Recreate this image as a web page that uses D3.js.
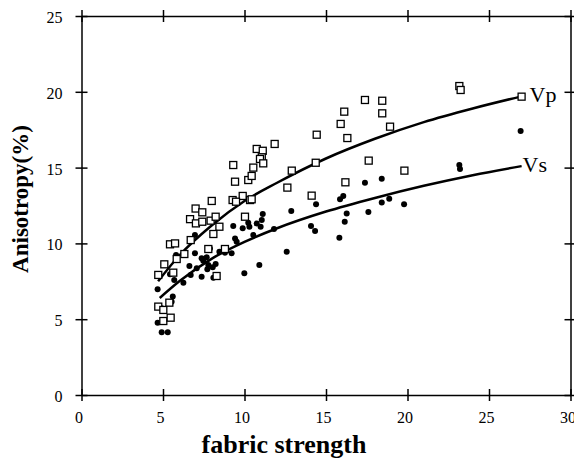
<!DOCTYPE html>
<html>
<head>
<meta charset="utf-8">
<script src="https://cdn.jsdelivr.net/npm/d3@7"></script>
<style>
  body { margin: 0; background: #fff; }
  text { font-family: "Liberation Serif", "DejaVu Serif", serif; fill: #000; }
</style>
</head>
<body>
<svg id="chart" width="574" height="460"></svg>
<script>
"use strict";

// tick values
var xTicks = [0, 5, 10, 15, 20, 25, 30];
var yTicks = [0, 5, 10, 15, 20, 25];

// Vp anisotropy (open squares)
var vpPoints = [
  [9.42,14.07],[10.23,14.18],[10.44,14.45],[7.99,12.8],[7.0,12.3],[7.41,12.05],[6.66,11.6],
  [7.02,11.32],[7.41,11.43],[7.92,11.5],[8.23,11.76],[8.46,11.1],[8.09,10.62],[9.27,12.86],
  [9.89,13.13],[10.34,12.86],[9.48,12.75],[10.03,11.76],[5.43,9.94],[5.74,10.0],[6.7,10.22],
  [6.31,9.3],[5.84,8.97],[5.08,8.62],[5.63,8.07],[4.71,7.92],[7.78,9.63],[8.8,9.63],
  [8.29,7.85],[5.39,6.09],[4.71,5.83],[5.02,5.61],[5.02,4.88],[5.47,5.1],
  [23.18,20.38],[23.26,20.12],[17.39,19.46],[18.45,19.41],[16.12,18.69],[18.45,18.58],
  [15.9,17.88],[18.93,17.7],[16.31,16.95],[14.43,17.17],[11.85,16.56],[10.75,16.23],
  [11.12,16.11],[11.06,15.68],[10.95,15.57],[11.15,15.28],[10.54,15.0],[10.44,12.91],
  [12.9,14.8],[14.37,15.32],[12.63,13.68],[14.12,13.15],[17.62,15.46],[16.19,14.03],
  [19.81,14.8],[27.0,19.68],[9.31,15.17]
];

// Vs anisotropy (filled circles)
var vsPoints = [
  [9.31,11.15],[9.89,11.0],[10.23,11.37],[10.3,11.1],[10.75,11.32],[10.54,10.55],[9.42,10.33],
  [9.52,10.11],[6.96,10.55],[7.88,9.67],[6.96,9.35],[7.37,9.02],[7.68,9.08],[7.47,8.86],
  [8.46,9.45],[8.8,9.39],[9.21,9.35],[5.8,9.23],[6.62,8.51],[7.07,8.36],[7.78,8.58],
  [7.72,8.29],[8.05,8.42],[8.23,8.64],[6.7,7.92],[7.37,7.8],[8.09,7.74],[5.43,7.96],
  [5.69,7.59],[6.25,7.41],[4.67,6.97],[9.99,8.03],[10.91,8.58],[4.92,5.72],[5.53,6.15],
  [5.6,6.5],[4.67,4.77],[4.92,4.14],[5.29,4.14],[10.99,11.1],
  [26.94,17.41],[23.18,15.17],[23.22,14.91],[17.39,14.0],[18.42,14.27],[16.06,13.13],
  [15.86,12.91],[14.39,12.58],[18.42,12.69],[18.88,12.95],[19.79,12.58],[17.6,12.07],
  [16.27,11.98],[16.15,11.43],[12.87,12.14],[14.08,11.15],[14.33,10.82],[15.82,10.38],
  [12.59,9.45],[11.12,11.94],[11.06,11.54],[11.81,10.95]
];

// fitted trend curves
var vpFit = [[4.7,7.5],[6,9.2],[8,11.2],[10,12.8],[12,14.0],[15,15.6],[18,16.9],[21,18.0],[24,18.9],[27,19.7]];
var vsFit = [[4.8,6.4],[6,7.5],[8,9.0],[10,10.1],[12,11.0],[15,12.1],[18,13.0],[21,13.8],[24,14.5],[27,15.1]];

var svg = d3.select("#chart");

var x = d3.scaleLinear().domain([0, 30]).range([81.5, 570.5]);
var y = d3.scaleLinear().domain([0, 25]).range([395, 16]);

function styleAxis(g) {
  g.attr("font-family", "Liberation Serif, serif").attr("font-size", 16);
  g.select(".domain").attr("stroke", "#000").attr("stroke-width", 1.5);
  g.selectAll(".tick line").attr("stroke", "#000").attr("stroke-width", 1.5);
  g.selectAll("text").attr("fill", "#000");
}

// bottom
var gx = svg.append("g").attr("transform", "translate(0," + y(0) + ")")
  .call(d3.axisBottom(x).tickValues(xTicks).tickSize(6).tickSizeOuter(0).tickPadding(11));
styleAxis(gx);
gx.selectAll(".tick line").attr("y1", -6);
gx.selectAll(".tick text").attr("dx", -3);

// top
var gt = svg.append("g").attr("transform", "translate(0," + y(25) + ")")
  .call(d3.axisTop(x).tickValues(xTicks).tickSize(6).tickSizeOuter(0).tickFormat(""));
styleAxis(gt);
gt.selectAll(".tick line").attr("y1", 6);

// left
var gy = svg.append("g").attr("transform", "translate(" + x(0) + ",0)")
  .call(d3.axisLeft(y).tickValues(yTicks).tickSize(6).tickSizeOuter(0).tickPadding(13));
styleAxis(gy);
gy.selectAll(".tick line").attr("x1", 6);
gy.selectAll(".tick text").attr("dy", "0.4em");

// right
var gr = svg.append("g").attr("transform", "translate(" + x(30) + ",0)")
  .call(d3.axisRight(y).tickValues(yTicks).tickSize(6).tickSizeOuter(0).tickFormat(""));
styleAxis(gr);
gr.selectAll(".tick line").attr("x1", -6);

// trend lines
var line = d3.line()
  .x(function (d) { return x(d[0]); })
  .y(function (d) { return y(d[1]); })
  .curve(d3.curveMonotoneX);

svg.append("path").datum(vpFit)
  .attr("d", line).attr("fill", "none").attr("stroke", "#000").attr("stroke-width", 2.5);
svg.append("path").datum(vsFit)
  .attr("d", line).attr("fill", "none").attr("stroke", "#000").attr("stroke-width", 2.5);

// points
svg.append("g").selectAll("circle").data(vsPoints).enter().append("circle")
  .attr("cx", function (d) { return x(d[0]); })
  .attr("cy", function (d) { return y(d[1]); })
  .attr("r", 3)
  .attr("fill", "#000");

svg.append("g").selectAll("rect").data(vpPoints).enter().append("rect")
  .attr("x", function (d) { return x(d[0]) - 3.5; })
  .attr("y", function (d) { return y(d[1]) - 3.5; })
  .attr("width", 7)
  .attr("height", 7)
  .attr("fill", "#fff")
  .attr("stroke", "#000")
  .attr("stroke-width", 1.3);

// curve labels
svg.append("text")
  .attr("x", x(27) + 8).attr("y", y(19.7) + 6)
  .style("font-size", "22px")
  .text("Vp");
svg.append("text")
  .attr("x", x(27) + 1).attr("y", y(15.1) + 6)
  .style("font-size", "22px")
  .text("Vs");

// axis titles
svg.append("text")
  .attr("x", 284).attr("y", 453)
  .attr("text-anchor", "middle")
  .style("font-size", "26px").style("font-weight", "bold")
  .text("fabric strength");

svg.append("text")
  .attr("transform", "translate(28,199) rotate(-90)")
  .attr("text-anchor", "middle")
  .style("font-size", "23px").style("font-weight", "bold")
  .text("Anisotropy(%)");
</script>
</body>
</html>
